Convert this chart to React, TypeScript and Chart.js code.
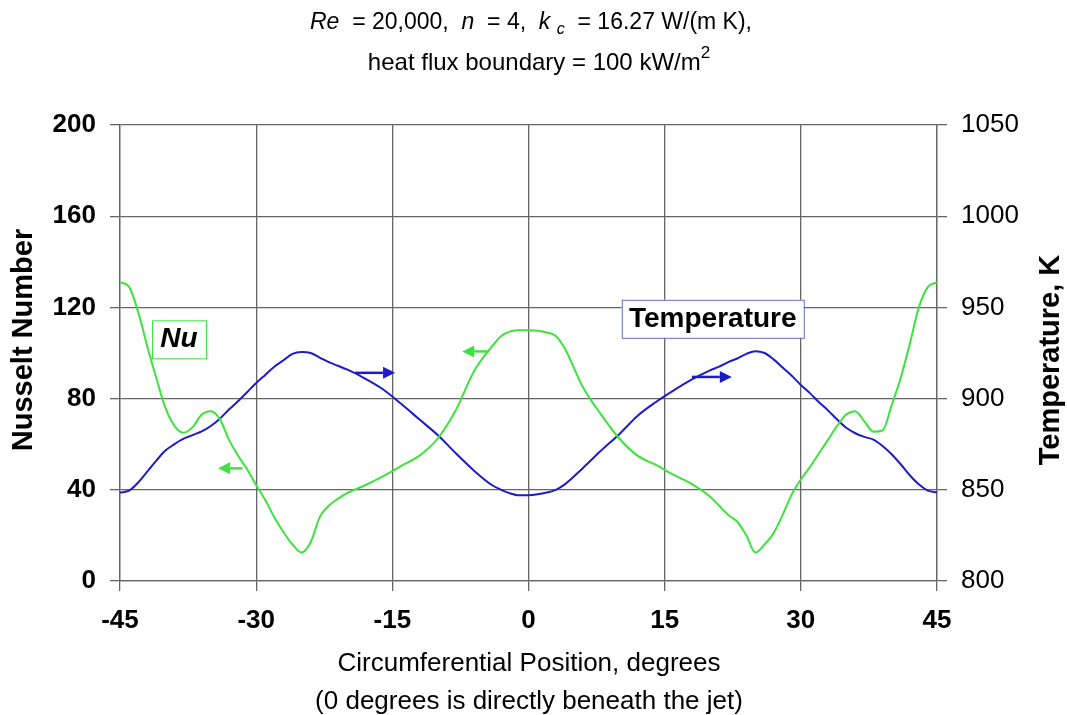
import React, { useEffect, useRef } from 'react';
import { Chart, registerables } from 'chart.js';

Chart.register(...registerables);

// ---- data ----
const positions = [
  -45, -44, -43, -42, -41, -40, -39, -38, -37, -36, -35, -34, -33, -32, -31, -30,
  -29, -28, -27, -26, -25, -24, -23, -22, -21, -20, -18, -16, -14, -12, -10, -8,
  -6, -4, -3, -2, -1, 0, 1, 2, 3, 4, 6, 8, 10, 12, 14, 16, 18, 20, 21, 22, 23,
  24, 25, 26, 27, 28, 29, 30, 31, 32, 33, 34, 35, 36, 37, 38, 39, 40, 41, 42,
  43, 44, 45,
];
const nusselt = [
  131, 129, 118, 103, 89, 76, 68, 65, 67.5, 73, 74.5, 71, 62, 55, 49, 42,
  35.5, 28, 21.5, 16, 12.5, 17, 28, 33, 36, 38.5, 42, 46, 50.5, 55, 62.5, 75,
  92, 103, 107.5, 109.5, 110, 110, 109.8, 109, 107.5, 102, 85, 73, 62.5, 55, 51, 46.5, 42.5, 37, 33, 29, 26,
  20, 12.5, 16, 21, 29, 38, 44.5, 50, 56, 62, 68, 73, 74.5, 70, 65.5, 66, 77, 89, 104,
  120, 129, 131,
];
const temperature = [
  848.5, 849.5, 854, 860, 866, 871.5, 875, 878, 880, 882, 885, 889, 894, 898.5, 903.5, 908.5,
  913, 917.5, 921, 924.5, 925.5, 925, 922.5, 920, 918, 916, 911, 905, 897, 888.5, 880, 870,
  860.5, 852.5, 850, 848, 847, 847, 847.5, 848.5, 850, 853, 862, 871.5, 880.5, 890.5, 898, 904.5, 910.5, 915.5, 917.5, 920, 922,
  924.5, 926, 925, 921.5, 917, 912.5, 907.5, 903, 898, 893.5, 888.5, 884, 881, 879, 877.5, 874, 869.5, 864, 858,
  853, 849.5, 848.5,
];
const xTickValues = [-45, -30, -15, 0, 15, 30, 45];
const nuTickValues = [0, 40, 80, 120, 160, 200];
const tempTickValues = [800, 850, 900, 950, 1000, 1050];

const FONT = "'Liberation Sans', Arial, Helvetica, sans-serif";
const GREEN = '#3de23d';
const BLUE = '#1c1cc8';
const GRID = '#666666';

type Run = { t: string; i?: boolean; b?: boolean; sub?: boolean; sup?: boolean };

function drawRuns(ctx: CanvasRenderingContext2D, runs: Run[], cx: number, cy: number, size: number) {
  const fontOf = (r: Run) => {
    const s = r.sub || r.sup ? Math.round(size * 0.7) : size;
    return `${r.i ? 'italic ' : ''}${r.b ? 'bold ' : ''}${s}px ${FONT}`;
  };
  let total = 0;
  const widths = runs.map((r) => {
    ctx.font = fontOf(r);
    const w = ctx.measureText(r.t).width;
    total += w;
    return w;
  });
  let x = cx - total / 2;
  ctx.textAlign = 'left';
  ctx.textBaseline = 'middle';
  ctx.fillStyle = '#000';
  runs.forEach((r, k) => {
    ctx.font = fontOf(r);
    const dy = r.sub ? size * 0.3 : r.sup ? -size * 0.4 : 0;
    ctx.fillText(r.t, x, cy + dy);
    x += widths[k];
  });
}

function arrow(ctx: CanvasRenderingContext2D, x1: number, x2: number, y: number, color: string) {
  const dir = Math.sign(x2 - x1);
  const head = 12;
  ctx.strokeStyle = color;
  ctx.fillStyle = color;
  ctx.lineWidth = 2.5;
  ctx.beginPath();
  ctx.moveTo(x1, y);
  ctx.lineTo(x2 - dir * head, y);
  ctx.stroke();
  ctx.beginPath();
  ctx.moveTo(x2, y);
  ctx.lineTo(x2 - dir * head, y - 6);
  ctx.lineTo(x2 - dir * head, y + 6);
  ctx.closePath();
  ctx.fill();
}

const overlay = {
  id: 'overlay',
  afterDraw(chart: any) {
    const ctx: CanvasRenderingContext2D = chart.ctx;
    const sx = chart.scales.x;
    const sy = chart.scales.y;
    ctx.save();

    // title
    drawRuns(ctx, [
      { t: 'Re', i: true }, { t: '  = 20,000,  ' }, { t: 'n', i: true }, { t: '  = 4,  ' },
      { t: 'k', i: true }, { t: ' ' }, { t: 'c', i: true, sub: true }, { t: '  = 16.27 W/(m K),' },
    ], 531, 23, 23);
    drawRuns(ctx, [{ t: 'heat flux boundary = 100 kW/m' }, { t: '2', sup: true }], 539, 63, 24);

    // x axis title
    drawRuns(ctx, [{ t: 'Circumferential Position, degrees' }], 529, 664, 26);
    drawRuns(ctx, [{ t: '(0 degrees is directly beneath the jet)' }], 529, 702, 26);

    // y titles
    ctx.save();
    ctx.translate(24, 340);
    ctx.rotate(-Math.PI / 2);
    drawRuns(ctx, [{ t: 'Nusselt Number', b: true }], 0, 0, 29);
    ctx.restore();
    ctx.save();
    ctx.translate(1051, 360);
    ctx.rotate(-Math.PI / 2);
    drawRuns(ctx, [{ t: 'Temperature, K', b: true }], 0, 0, 29);
    ctx.restore();

    // label boxes
    const nx = sx.getPixelForValue(-38.5);
    const ny = sy.getPixelForValue(106);
    ctx.fillStyle = '#fff';
    ctx.fillRect(nx - 27, ny - 19, 54, 38);
    ctx.strokeStyle = GREEN;
    ctx.lineWidth = 1;
    ctx.strokeRect(nx - 27 + 0.5, ny - 19 + 0.5, 54, 38);
    drawRuns(ctx, [{ t: 'Nu', i: true, b: true }], nx, ny, 28);

    const tx = sx.getPixelForValue(20.3);
    const ty = sy.getPixelForValue(115);
    ctx.fillStyle = '#fff';
    ctx.fillRect(tx - 91, ty - 19, 182, 38);
    ctx.strokeStyle = '#6a6ad0';
    ctx.lineWidth = 1;
    ctx.strokeRect(tx - 91 + 0.5, ty - 19 + 0.5, 182, 38);
    drawRuns(ctx, [{ t: 'Temperature', b: true }], tx, ty, 28);

    // arrows
    arrow(ctx, sx.getPixelForValue(-19.1), sx.getPixelForValue(-14.7), sy.getPixelForValue(91.3), BLUE);
    arrow(ctx, sx.getPixelForValue(18.0), sx.getPixelForValue(22.4), sy.getPixelForValue(89.5), BLUE);
    arrow(ctx, sx.getPixelForValue(-31.5), sx.getPixelForValue(-34.2), sy.getPixelForValue(49.4), GREEN);
    arrow(ctx, sx.getPixelForValue(-4.4), sx.getPixelForValue(-7.3), sy.getPixelForValue(100.7), GREEN);

    ctx.restore();
  },
};

export default function App() {
  const ref = useRef<HTMLCanvasElement | null>(null);
  useEffect(() => {
    if (!ref.current) return;
    const plain = (v: any) => String(v);
    const chart = new Chart(ref.current, {
      type: 'line',
      data: {
        datasets: [
          {
            label: 'Nu',
            data: positions.map((p, i) => ({ x: p, y: nusselt[i] })),
            yAxisID: 'y',
            borderColor: GREEN,
            borderWidth: 2,
            pointRadius: 0,
            cubicInterpolationMode: 'monotone',
          },
          {
            label: 'Temperature',
            data: positions.map((p, i) => ({ x: p, y: temperature[i] })),
            yAxisID: 'y2',
            borderColor: BLUE,
            borderWidth: 2,
            pointRadius: 0,
            cubicInterpolationMode: 'monotone',
          },
        ],
      },
      options: {
        animation: false,
        responsive: true,
        maintainAspectRatio: false,
        devicePixelRatio: 1,
        layout: { padding: { top: 125, left: 0, right: 0, bottom: 0 } },
        plugins: { legend: { display: false }, tooltip: { enabled: false }, title: { display: false } },
        scales: {
          x: {
            type: 'linear',
            min: -45,
            max: 45,
            afterBuildTicks: (s: any) => { s.ticks = xTickValues.map((v) => ({ value: v })); },
            afterFit: (s: any) => { s.height = 134; s.paddingLeft = 0; s.paddingRight = 0; },
            ticks: { color: '#000', font: { family: FONT, size: 26, weight: 'bold' }, padding: 14, maxRotation: 0, callback: plain },
            grid: { color: GRID, lineWidth: 1.3, tickLength: 10 },
            border: { color: GRID, width: 1.3 },
          },
          y: {
            position: 'left',
            min: 0,
            max: 200,
            afterBuildTicks: (s: any) => { s.ticks = nuTickValues.map((v) => ({ value: v })); },
            afterFit: (s: any) => { s.width = 120; s.paddingTop = 0; s.paddingBottom = 0; },
            ticks: { color: '#000', font: { family: FONT, size: 26, weight: 'bold' }, padding: 14, callback: plain },
            grid: { color: GRID, lineWidth: 1.3, tickLength: 10 },
            border: { color: GRID, width: 1.3 },
          },
          y2: {
            position: 'right',
            min: 800,
            max: 1050,
            afterBuildTicks: (s: any) => { s.ticks = tempTickValues.map((v) => ({ value: v })); },
            afterFit: (s: any) => { s.width = 130; s.paddingTop = 0; s.paddingBottom = 0; },
            ticks: { color: '#000', font: { family: FONT, size: 26 }, padding: 14, callback: plain },
            grid: { color: GRID, lineWidth: 1.3, tickLength: 10, drawOnChartArea: false },
            border: { color: GRID, width: 1.3 },
          },
        },
      },
      plugins: [overlay],
    } as any);
    return () => chart.destroy();
  }, []);
  return (
    <div style={{ position: 'absolute', left: 0, top: 0, width: 1067, height: 715, background: '#fff' }}>
      <canvas ref={ref} />
    </div>
  );
}
